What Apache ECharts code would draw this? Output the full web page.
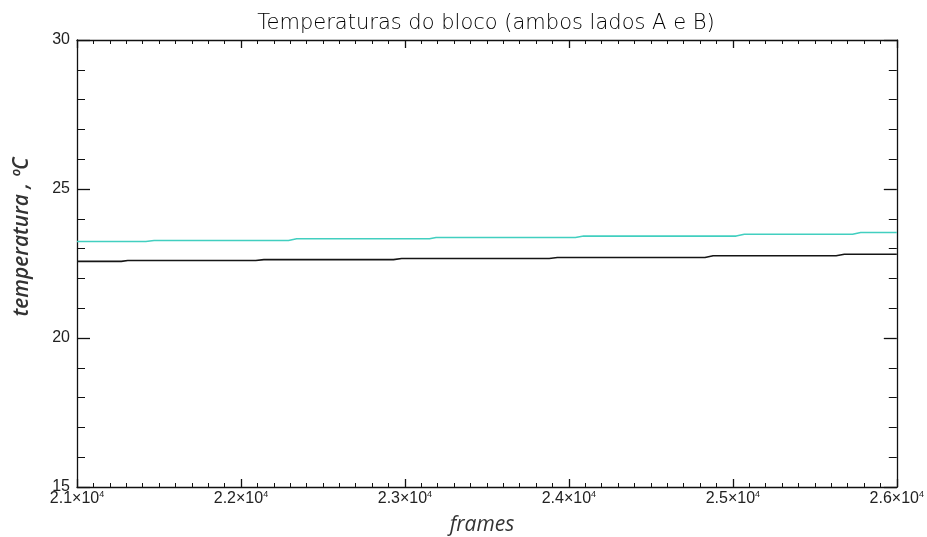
<!DOCTYPE html>
<html>
<head>
<meta charset="utf-8">
<script src="https://cdn.jsdelivr.net/npm/echarts@6/dist/echarts.min.js"></script>
<style>
html,body{margin:0;padding:0;background:#fff;}
#main{width:927px;height:537px;}
</style>
</head>
<body>
<div id="main"></div>
<script>
// Data
const framesA = [21000, 21420, 21470, 22290, 22340, 23150, 23190, 24040, 24090, 25020, 25070, 25730, 25780, 26000];
const tempA   = [23.24, 23.24, 23.27, 23.27, 23.33, 23.33, 23.37, 23.37, 23.42, 23.42, 23.48, 23.48, 23.54, 23.54];
const framesB = [21000, 21270, 21310, 22090, 22140, 22930, 22980, 23880, 23930, 24830, 24880, 25630, 25680, 26000];
const tempB   = [22.57, 22.57, 22.60, 22.60, 22.63, 22.63, 22.67, 22.67, 22.70, 22.70, 22.76, 22.76, 22.81, 22.81];
const xTickMantissa = ['2.1', '2.2', '2.3', '2.4', '2.5', '2.6'];
const xTickExponent = '4';
const yTickLabels = ['15', '20', '25', '30'];

const titleText = 'Temperaturas do bloco (ambos lados A e B)';
const xName = 'frames';
const yName = 'temperatura , ºC';

const chart = echarts.init(document.getElementById('main'), null, {renderer: 'canvas'});

const axisLineStyle = {color: '#111', width: 1.3};

function pairs(xs, ys) { return xs.map((x, i) => [x, ys[i]]); }

const option = {
  backgroundColor: '#ffffff',
  animation: false,
  grid: {left: 77, right: 30, top: 40, bottom: 50, containLabel: false},
  graphic: [
    {type: 'text', x: 486, y: 24, silent: true,
     style: {text: titleText, fill: '#000', font: '300 21px "DejaVu Sans"', textAlign: 'center', textVerticalAlign: 'middle'}},
    {type: 'text', x: 482, y: 525, silent: true,
     style: {text: xName, fill: '#333', font: 'italic 21px "Open Sans"', textAlign: 'center', textVerticalAlign: 'middle'}},
    {type: 'text', x: 22, y: 237, rotation: Math.PI / 2, silent: true,
     style: {text: yName, fill: '#333', font: 'italic 600 21px "Open Sans"', textAlign: 'center', textVerticalAlign: 'middle'}}
  ],
  xAxis: [
    {
      type: 'value', min: 21000, max: 26000, interval: 1000, position: 'bottom',
      axisLine: {show: true, lineStyle: axisLineStyle},
      axisTick: {show: true, inside: true, length: 8, lineStyle: axisLineStyle},
      minorTick: {show: true, splitNumber: 10, length: 4, lineStyle: {color: '#111', width: 1}},
      splitLine: {show: false},
      axisLabel: {
        margin: 3,
        formatter: function (v) {
          const i = Math.round((v - 21000) / 1000);
          return '{m|' + xTickMantissa[i] + '×10}{e|' + xTickExponent + '}';
        },
        rich: {
          m: {fontSize: 16, color: '#222', fontFamily: 'Liberation Sans'},
          e: {fontSize: 9, color: '#222', fontFamily: 'Liberation Sans', verticalAlign: 'top', padding: [0, 0, 9, 0]}
        }
      }
    },
    {
      type: 'value', min: 21000, max: 26000, interval: 1000, position: 'top',
      axisLine: {show: true, lineStyle: axisLineStyle},
      axisTick: {show: true, inside: true, length: 8, lineStyle: axisLineStyle},
      minorTick: {show: true, splitNumber: 10, length: 4, lineStyle: {color: '#111', width: 1}},
      splitLine: {show: false},
      axisLabel: {show: false}
    }
  ],
  yAxis: [
    {
      type: 'value', min: 15, max: 30, interval: 5, position: 'left',
      axisLine: {show: true, lineStyle: axisLineStyle},
      axisTick: {show: true, inside: true, length: 13, lineStyle: axisLineStyle},
      minorTick: {show: true, splitNumber: 5, length: 8, lineStyle: {color: '#111', width: 1}},
      splitLine: {show: false},
      axisLabel: {
        margin: 7, fontSize: 16, color: '#222', fontFamily: 'Liberation Sans',
        formatter: function (v) { return yTickLabels[Math.round((v - 15) / 5)]; }
      }
    },
    {
      type: 'value', min: 15, max: 30, interval: 5, position: 'right',
      axisLine: {show: true, lineStyle: axisLineStyle},
      axisTick: {show: true, inside: true, length: 13, lineStyle: axisLineStyle},
      minorTick: {show: true, splitNumber: 5, length: 8, lineStyle: {color: '#111', width: 1}},
      splitLine: {show: false},
      axisLabel: {show: false}
    }
  ],
  series: [
    {
      name: 'A', type: 'line', xAxisIndex: 0, yAxisIndex: 0,
      data: pairs(framesA, tempA), showSymbol: false, symbol: 'none',
      lineStyle: {color: '#42cfc0', width: 1.6}, clip: true, z: 3
    },
    {
      name: 'B', type: 'line', xAxisIndex: 0, yAxisIndex: 0,
      data: pairs(framesB, tempB), showSymbol: false, symbol: 'none',
      lineStyle: {color: '#151515', width: 1.6}, clip: true, z: 3
    }
  ]
};
chart.setOption(option);
</script>
</body>
</html>
